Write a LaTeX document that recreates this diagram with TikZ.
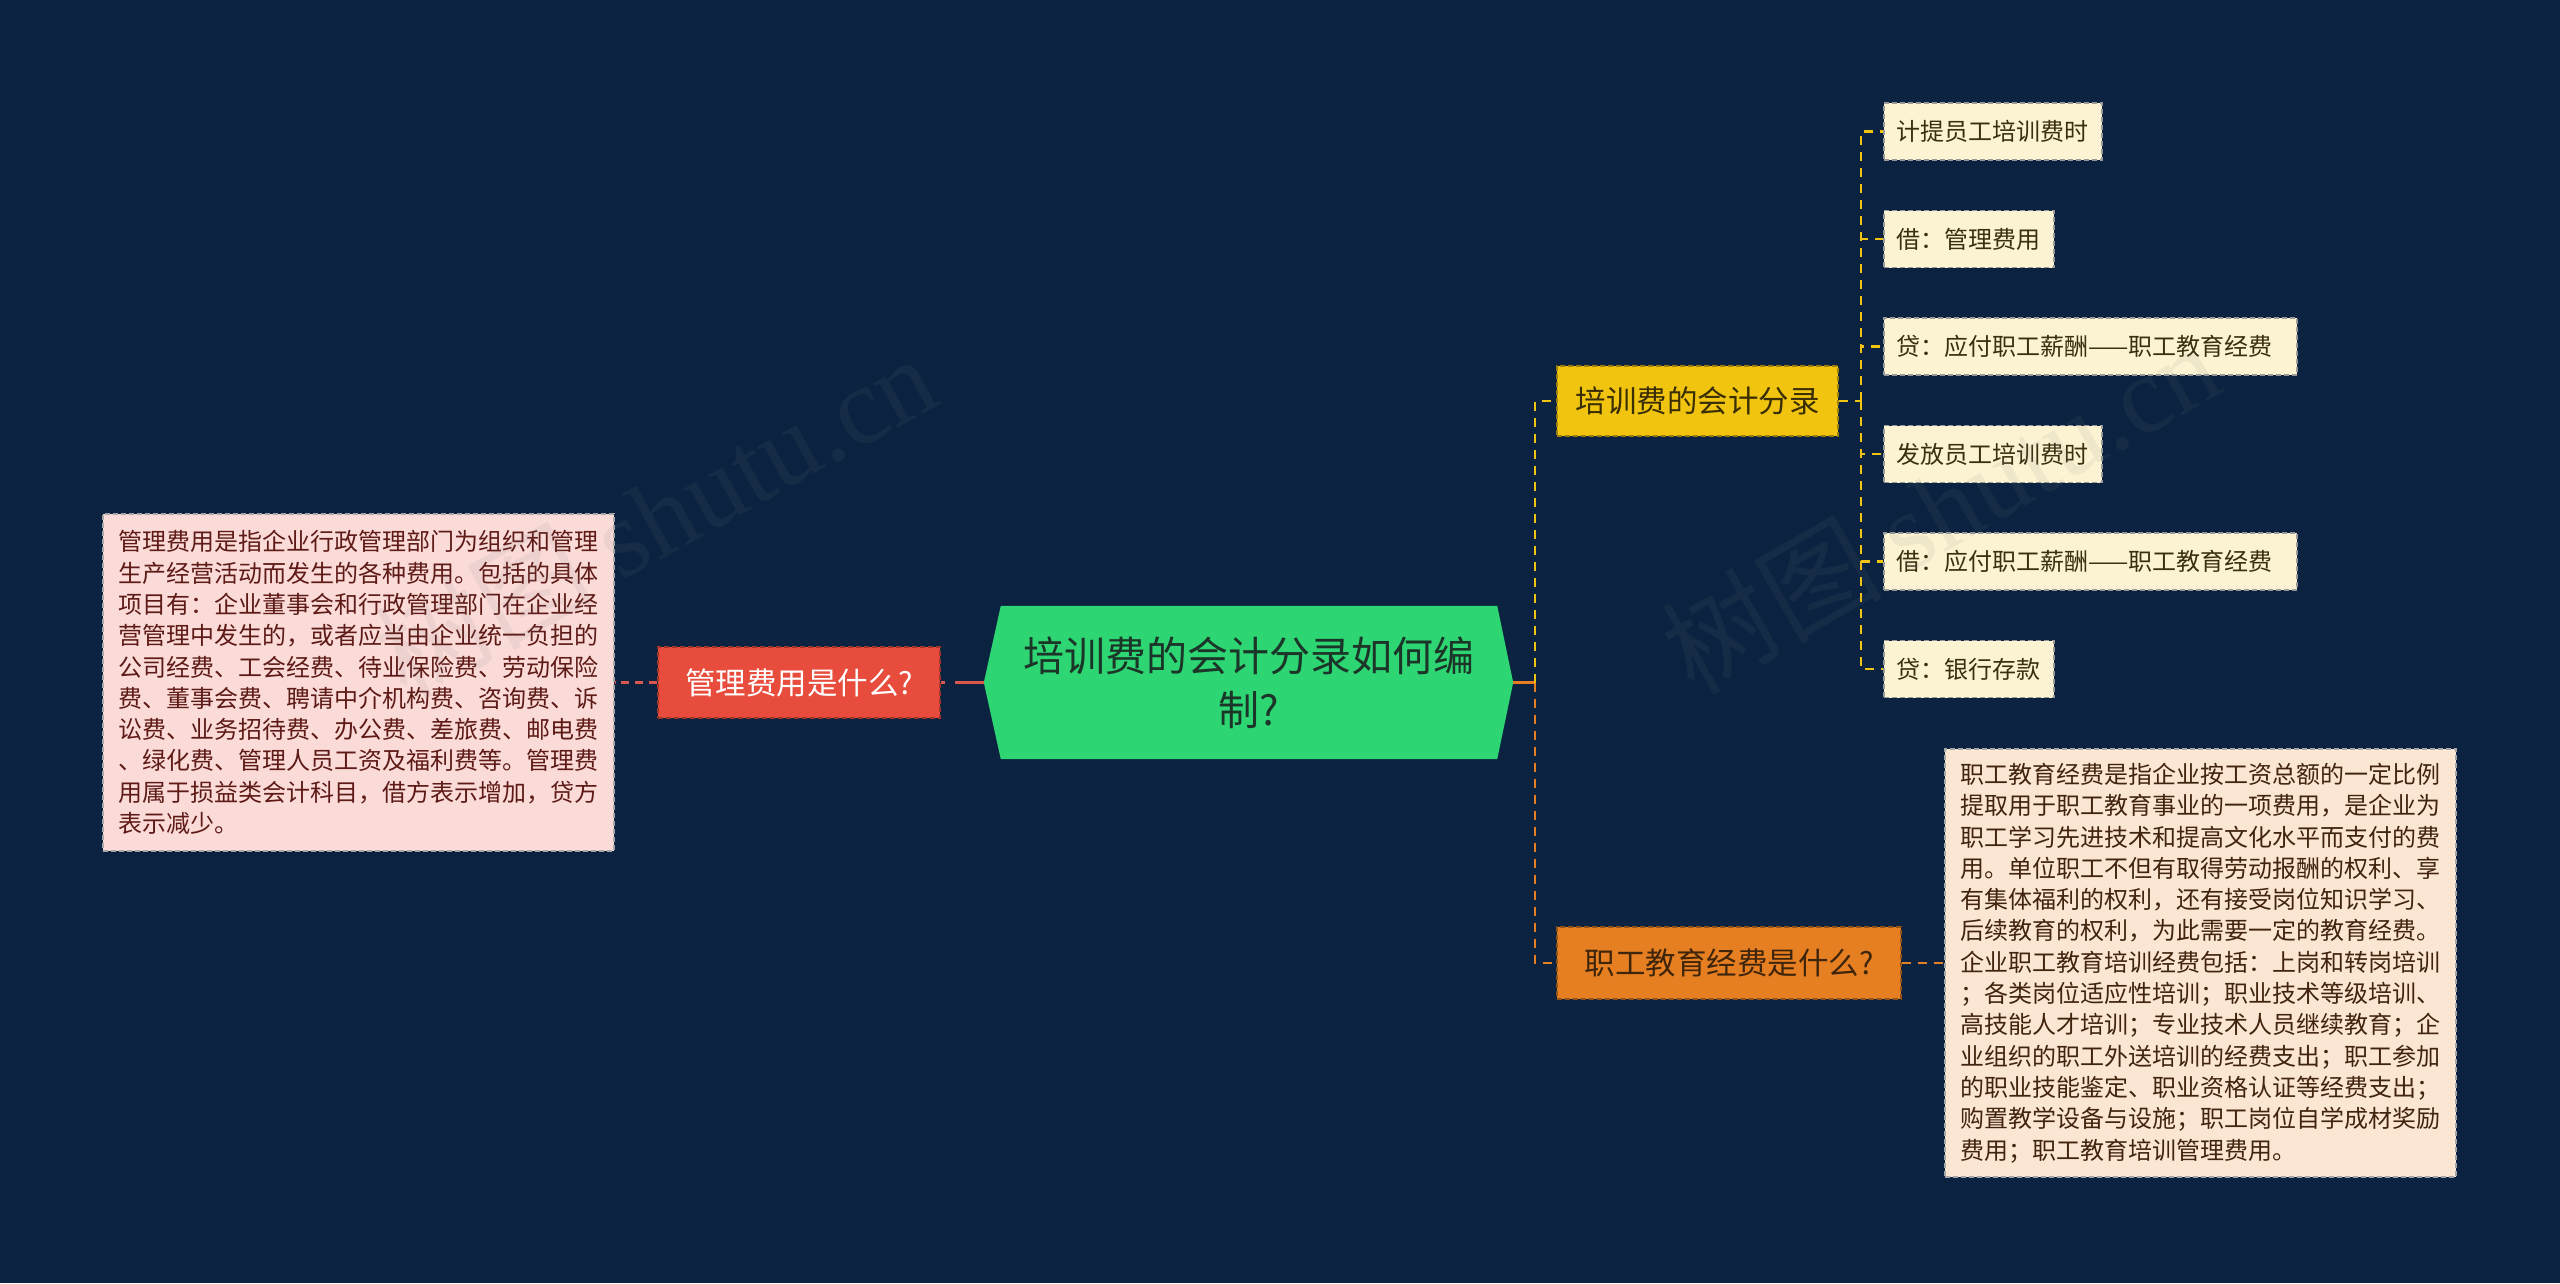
\documentclass[tikz,border=0pt]{standalone}
\usepackage{fontspec}
\setmainfont{Noto Sans CJK SC}
\setsansfont{Noto Sans CJK SC}
\newfontfamily\wmlatin{Liberation Serif}
\usetikzlibrary{calc}
\definecolor{bg}{HTML}{0B2240}
\definecolor{rootfill}{HTML}{2ED573}
\definecolor{roottext}{HTML}{1B3528}
\definecolor{redfill}{HTML}{E74C3C}
\definecolor{redline}{HTML}{D9564A}
\definecolor{yelfill}{HTML}{F1C40F}
\definecolor{yeltext}{HTML}{3A2E05}
\definecolor{ornfill}{HTML}{E67E22}
\definecolor{orntext}{HTML}{3F250A}
\definecolor{leaffill}{HTML}{FCF3D2}
\definecolor{leaftext}{HTML}{3A3010}
\definecolor{pinkfill}{HTML}{FADBD8}
\definecolor{pinktext}{HTML}{5E1A16}
\definecolor{peachfill}{HTML}{FBE6D4}
\definecolor{peachtext}{HTML}{40240E}
\tikzset{
  nodebox/.style={inner sep=0pt, line width=1.5pt, dash pattern=on 5pt off 3pt},
  leaf/.style={nodebox, fill=leaffill, draw=black!40, text=leaftext,
     minimum height=57pt, inner xsep=13pt, font=\fontsize{24}{30}\selectfont},
  wideleaf/.style={leaf, text width=387pt, align=left},
  mainbranch/.style={nodebox, font=\fontsize{30.5}{36}\selectfont},
  textbox/.style={nodebox, align=left, font=\fontsize{24}{31.3}\selectfont},
  yline/.style={draw=yelfill, line width=2.5pt, dash pattern=on 9pt off 7pt},
  oline/.style={draw=ornfill, line width=2.5pt, dash pattern=on 9pt off 7pt},
  rline/.style={draw=redline, line width=3pt},
  wm/.style={text=gray, opacity=0.10, font=\fontsize{110}{115}\selectfont, inner sep=0pt}
}
\begin{document}
\begin{tikzpicture}[x=1pt,y=-1pt]
\useasboundingbox (0,0) rectangle (2560,1283);
\fill[bg] (0,0) rectangle (2560,1283);

% central node
\path node[minimum width=529pt, minimum height=153pt, inner sep=0pt] (root) at (1248.5,682.5) {};
\fill[rootfill] (root.west) -- ([xshift=17pt]root.north west) -- ([xshift=-16pt]root.north east)
  -- (root.east) -- ([xshift=-16pt]root.south east) -- ([xshift=17pt]root.south west) -- cycle;
\node[align=center, text=roottext, font=\fontsize{41}{54}\selectfont] (roottxt) at (root.center)
  {培训费的会计分录如何编\\制?};

% left branch
\node[mainbranch, fill=redfill, draw=redfill!70!black, text=white,
  minimum width=282pt, minimum height=71pt] (red) at (799,682.5) {管理费用是什么?};
\node[textbox, fill=pinkfill, draw=black!35, text=pinktext,
  minimum width=511pt, minimum height=337pt] (lbox) at (358.5,682.5)
  {管理费用是指企业行政管理部门为组织和管理\\
   生产经营活动而发生的各种费用。包括的具体\\
   项目有：企业董事会和行政管理部门在企业经\\
   营管理中发生的，或者应当由企业统一负担的\\
   公司经费、工会经费、待业保险费、劳动保险\\
   费、董事会费、聘请中介机构费、咨询费、诉\\
   讼费、业务招待费、办公费、差旅费、邮电费\\
   、绿化费、管理人员工资及福利费等。管理费\\
   用属于损益类会计科目，借方表示增加，贷方\\
   表示减少。};

% right branches
\node[mainbranch, fill=yelfill, draw=yelfill!65!black, text=yeltext,
  minimum width=281pt, minimum height=70pt] (yel) at (1697.5,401) {培训费的会计分录};
\node[mainbranch, fill=ornfill, draw=ornfill!65!black, text=orntext,
  minimum width=344pt, minimum height=72pt] (orn) at (1729,963) {职工教育经费是什么?};

% leaves
\node[leaf, anchor=west] (l1) at (1883,131.5) {计提员工培训费时};
\node[leaf, anchor=west] (l2) at (1883,239) {借：管理费用};
\node[wideleaf, anchor=west] (l3) at (1883,346.5) {贷：应付职工薪酬——职工教育经费};
\node[leaf, anchor=west] (l4) at (1883,454) {发放员工培训费时};
\node[wideleaf, anchor=west] (l5) at (1883,561.5) {借：应付职工薪酬——职工教育经费};
\node[leaf, anchor=west] (l6) at (1883,669) {贷：银行存款};

\node[textbox, fill=peachfill, draw=black!35, text=peachtext,
  minimum width=511pt, minimum height=428pt] (rbox) at (2200.5,963)
  {职工教育经费是指企业按工资总额的一定比例\\
   提取用于职工教育事业的一项费用，是企业为\\
   职工学习先进技术和提高文化水平而支付的费\\
   用。单位职工不但有取得劳动报酬的权利、享\\
   有集体福利的权利，还有接受岗位知识学习、\\
   后续教育的权利，为此需要一定的教育经费。\\
   企业职工教育培训经费包括：上岗和转岗培训\\
   ；各类岗位适应性培训；职业技术等级培训、\\
   高技能人才培训；专业技术人员继续教育；企\\
   业组织的职工外送培训的经费支出；职工参加\\
   的职业技能鉴定、职业资格认证等经费支出；\\
   购置教学设备与设施；职工岗位自学成材奖励\\
   费用；职工教育培训管理费用。};

% connectors
\coordinate (j) at (1535,682.5);
\coordinate (k) at (1861,401);
\draw[rline, dash pattern=on 4pt off 10pt on 80pt] (red.east) -- (root.west);
\draw[rline, dash pattern=on 8pt off 6pt] (red.west) -- (lbox.east);
\draw[draw=ornfill, line width=2.5pt] (root.east) -- (j);
\draw[draw=ornfill, line width=2.5pt] ([yshift=-9pt]j) -- ([yshift=9pt]j);
\draw[yline] (j) |- (yel.west);
\draw[oline] (j) |- (orn.west);
\draw[yline] (yel.east) -- (k);
\foreach \n in {l1,l2,l3,l4,l5,l6} \draw[yline] (k) |- (\n.west);
\draw[oline] (orn.east) -- (rbox.west);

% watermarks
\node[wm, rotate=29] (wm1) at (655,515) {树图 {\wmlatin shutu.cn}};
\node[wm, rotate=30] (wm2) at (1940,507) {树图 {\wmlatin shutu.cn}};
\end{tikzpicture}
\end{document}
